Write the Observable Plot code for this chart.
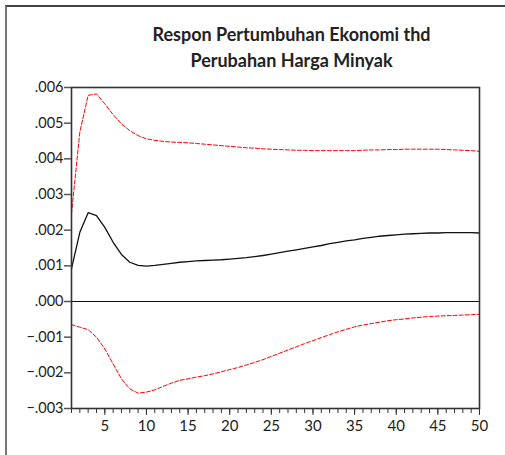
<!DOCTYPE html>
<html>
<head>
<meta charset="utf-8">
<script src="https://cdn.jsdelivr.net/npm/d3@7"></script>
<script src="https://cdn.jsdelivr.net/npm/@observablehq/plot@0.6"></script>
<style>
  html, body { margin: 0; padding: 0; background: #fff; overflow: hidden; }
  #wrap { position: relative; width: 505px; height: 455px; }
  #border { position: absolute; left: 5px; top: 5px; width: 540px; height: 500px;
            border-left: 2px solid #777; border-top: 2px solid #444; }
  #chart { position: absolute; left: 0; top: 0; }
</style>
</head>
<body>
<div id="wrap"><div id="border"></div><div id="chart"></div></div>
<script>
// Impulse response over 50 periods, with upper/lower confidence bands
const periods = d3.range(1, 51);

const response = [
  0.00092, 0.00194, 0.00249, 0.00241, 0.00208, 0.00166, 0.00132, 0.00110, 0.00101, 0.00099,
  0.00101, 0.00104, 0.00107, 0.00110, 0.00112, 0.00114, 0.00115, 0.00116, 0.00117, 0.00119,
  0.00121, 0.00123, 0.00126, 0.00129, 0.00133, 0.00137, 0.00141, 0.00145, 0.00149, 0.00153,
  0.00157, 0.00162, 0.00166, 0.00170, 0.00173, 0.00177, 0.00180, 0.00183, 0.00185, 0.00187,
  0.00189, 0.00190, 0.00191, 0.00192, 0.00192, 0.00193, 0.00193, 0.00193, 0.00193, 0.00192
];

const upper = [
  0.00246, 0.00475, 0.00578, 0.00582, 0.00554, 0.00524, 0.00498, 0.00479, 0.00465, 0.00456,
  0.00452, 0.00449, 0.00447, 0.00446, 0.00445, 0.00443, 0.00441, 0.00439, 0.00437, 0.00435,
  0.00433, 0.00431, 0.00430, 0.00428, 0.00427, 0.00426, 0.00425, 0.00424, 0.00424, 0.00423,
  0.00423, 0.00423, 0.00423, 0.00423, 0.00423, 0.00424, 0.00425, 0.00425, 0.00426, 0.00426,
  0.00427, 0.00427, 0.00427, 0.00427, 0.00427, 0.00426, 0.00425, 0.00424, 0.00423, 0.00421
];

const lower = [
  -0.00065, -0.00072, -0.00079, -0.00100, -0.00133, -0.00175, -0.00217, -0.00245, -0.00257, -0.00254,
  -0.00248, -0.00238, -0.00229, -0.00221, -0.00217, -0.00212, -0.00208, -0.00203, -0.00197, -0.00191,
  -0.00185, -0.00178, -0.00171, -0.00163, -0.00154, -0.00145, -0.00136, -0.00127, -0.00118, -0.00110,
  -0.00101, -0.00093, -0.00085, -0.00078, -0.00071, -0.00066, -0.00062, -0.00058, -0.00054, -0.00051,
  -0.00049, -0.00046, -0.00044, -0.00042, -0.00041, -0.00040, -0.00039, -0.00038, -0.00037, -0.00036
];

const yTicks = [-0.003, -0.002, -0.001, 0, 0.001, 0.002, 0.003, 0.004, 0.005, 0.006];
const xLabelTicks = [5, 10, 15, 20, 25, 30, 35, 40, 45, 50];
const titleText = "Respon Pertumbuhan Ekonomi thd\nPerubahan Harga Minyak";

const fmtY = d => d3.format(".3f")(d).replace("0.", ".");

const rows = periods.map((p, i) => ({p, response: response[i], upper: upper[i], lower: lower[i]}));

const chart = Plot.plot({
  width: 505,
  height: 455,
  marginLeft: 71,
  marginRight: 26,
  marginTop: 87,
  marginBottom: 47,
  style: {fontFamily: "Lato, 'Open Sans', sans-serif", fontSize: "14px", color: "#222", background: "transparent"},
  x: {domain: [1, 50]},
  y: {domain: [-0.003, 0.006]},
  marks: [
    Plot.ruleY([0], {stroke: "#111", strokeWidth: 1}),
    Plot.line(rows, {x: "p", y: "upper", stroke: "#f00", strokeWidth: 1, strokeDasharray: "4,2"}),
    Plot.line(rows, {x: "p", y: "lower", stroke: "#f00", strokeWidth: 1, strokeDasharray: "4,2"}),
    Plot.line(rows, {x: "p", y: "response", stroke: "#111", strokeWidth: 1.3}),
    Plot.frame({stroke: "#333", strokeWidth: 1.6}),
    Plot.axisY({ticks: yTicks, tickFormat: fmtY, tickSize: 7, tickPadding: 1, stroke: "#555",
                strokeWidth: 1.5, fontSize: 14.5, label: null}),
    Plot.axisX({ticks: periods, tickFormat: () => "", tickSize: 5, stroke: "#333", label: null}),
    Plot.axisX({ticks: xLabelTicks, tickSize: 7, tickPadding: 5, stroke: "#333", fontSize: 15, label: null}),
    Plot.text([titleText], {frameAnchor: "top", dx: 16, dy: -21, lineAnchor: "bottom",
                            lineHeight: 1.39, fontSize: 18, fontWeight: "bold", fill: "#222",
                            style: {letterSpacing: "0.3px"}})
  ]
});

document.getElementById("chart").appendChild(chart);
</script>
</body>
</html>
